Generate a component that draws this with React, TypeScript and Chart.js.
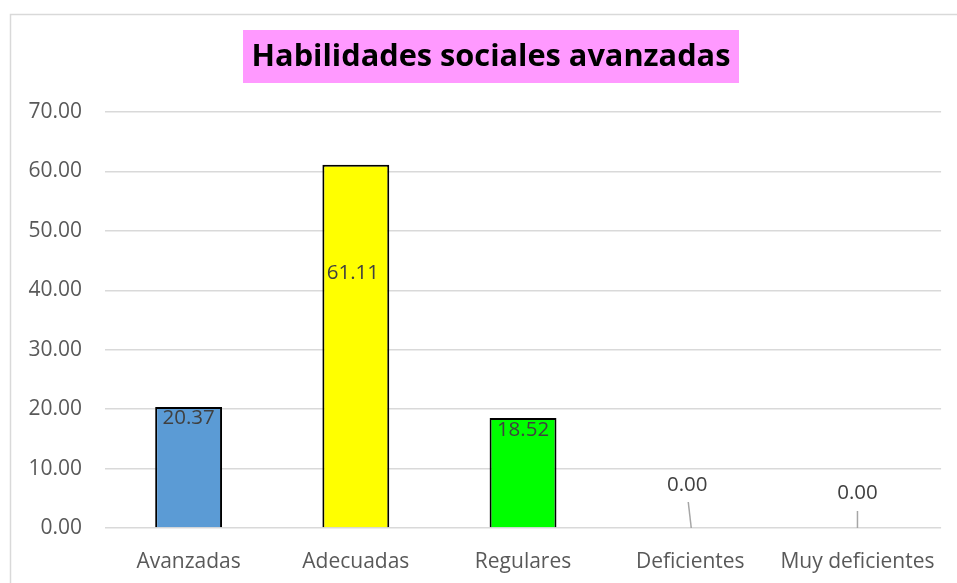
import React, { useEffect, useRef } from "react";
import { Chart, registerables } from "chart.js";
Chart.register(...registerables);

const categories = ["Avanzadas", "Adecuadas", "Regulares", "Deficientes", "Muy deficientes"];
const values = [20.37, 61.11, 18.52, 0.0, 0.0];
const barColors = ["#5B9BD5", "#FFFF00", "#00FF00", "#FFC000", "#A5A5A5"];
const yTickValues = [0, 10, 20, 30, 40, 50, 60, 70];
const chartTitle = "Habilidades sociales avanzadas";

const FONT = "'Open Sans'";

// label placement style (px relative to bar top)
const labelStyle = [
  { dx: 0, dy: 11, leader: null as null | number[] },
  { dx: -3, dy: 108, leader: null },
  { dx: 0, dy: 12, leader: null },
  { dx: -3, dy: -43, leader: [-2, -26, 1, 0] },
  { dx: 0, dy: -35, leader: [0, -17, 0, 0] },
];

const decorPlugin = {
  id: "decor",
  beforeDraw(chart: any) {
    const ctx = chart.ctx;
    ctx.save();
    ctx.fillStyle = "#ffffff";
    ctx.fillRect(0, 0, chart.width, chart.height);
    ctx.strokeStyle = "#d9d9d9";
    ctx.lineWidth = 1.5;
    ctx.beginPath();
    ctx.moveTo(10.5, chart.height + 2);
    ctx.lineTo(10.5, 14.5);
    ctx.lineTo(chart.width + 2, 14.5);
    ctx.stroke();
    // title
    ctx.fillStyle = "#FF99FF";
    ctx.fillRect(243, 30, 496, 53);
    ctx.fillStyle = "#000000";
    ctx.font = `bold 100px ${FONT}`;
    const w = ctx.measureText(chartTitle).width;
    const size = Math.min(33, (100 * 479) / w);
    ctx.font = `bold ${size}px ${FONT}`;
    ctx.textAlign = "center";
    ctx.textBaseline = "middle";
    ctx.fillText(chartTitle, 491, 57);
    ctx.restore();
  },
  afterDatasetsDraw(chart: any) {
    const ctx = chart.ctx;
    const meta = chart.getDatasetMeta(0);
    ctx.save();
    ctx.font = `20.5px ${FONT}`;
    ctx.fillStyle = "#404040";
    ctx.textAlign = "center";
    ctx.textBaseline = "middle";
    meta.data.forEach((bar: any, i: number) => {
      const st = labelStyle[i];
      ctx.fillText(values[i].toFixed(2), bar.x + st.dx, bar.y + st.dy);
      if (st.leader) {
        const [x1, y1, x2, y2] = st.leader;
        ctx.strokeStyle = "#a6a6a6";
        ctx.lineWidth = 1.5;
        ctx.beginPath();
        ctx.moveTo(bar.x + x1, bar.y + y1);
        ctx.lineTo(bar.x + x2, bar.y + y2);
        ctx.stroke();
      }
    });
    ctx.restore();
  },
};

export default function App() {
  const ref = useRef<HTMLCanvasElement>(null);
  useEffect(() => {
    document.body.style.margin = "0";
    const chart = new Chart(ref.current!, {
      type: "bar",
      data: {
        labels: categories,
        datasets: [
          {
            data: values,
            backgroundColor: barColors,
            borderColor: "#000000",
            borderWidth: 2,
            categoryPercentage: 1,
            barPercentage: 0.4,
          },
        ],
      },
      options: {
        responsive: false,
        animation: false,
        layout: { padding: { top: 112, right: 15, left: 0, bottom: 0 } },
        plugins: { legend: { display: false }, title: { display: false }, tooltip: { enabled: false } },
        scales: {
          x: {
            grid: { display: false, drawTicks: false },
            border: { display: false },
            ticks: { color: "#595959", font: { family: FONT, size: 21 }, padding: 21 },
            afterFit: (s: any) => { s.height = 55; },
          },
          y: {
            min: 0,
            max: 70,
            afterBuildTicks: (s: any) => { s.ticks = yTickValues.map((v) => ({ value: v })); },
            grid: { color: "#d9d9d9", lineWidth: 1.5, drawTicks: false },
            border: { display: false },
            ticks: {
              color: "#595959",
              font: { family: FONT, size: 21 },
              padding: 23,
              callback: (v: any) => Number(v).toFixed(2),
            },
            afterFit: (s: any) => { s.width = 105; },
          },
        },
      },
      plugins: [decorPlugin],
    });
    return () => chart.destroy();
  }, []);
  return <canvas ref={ref} width={957} height={583} style={{ display: "block" }} />;
}
